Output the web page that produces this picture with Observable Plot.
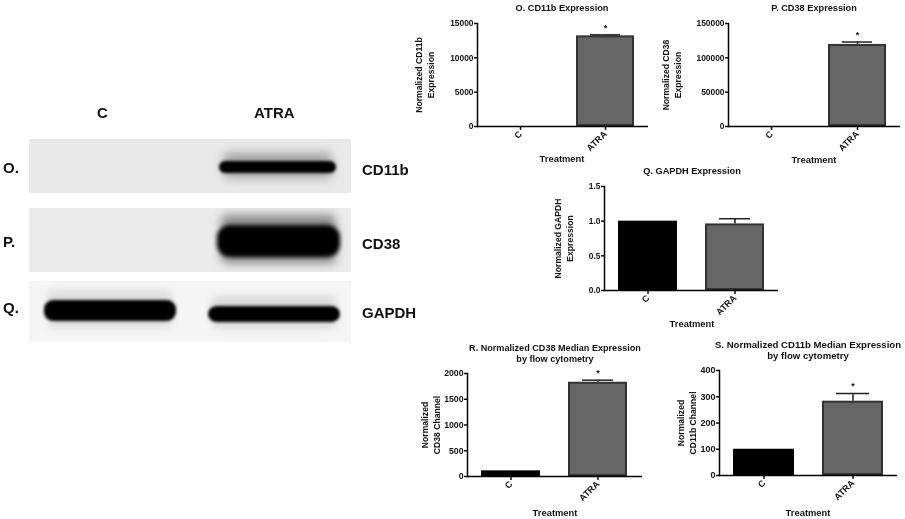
<!DOCTYPE html>
<html>
<head>
<meta charset="utf-8">
<script src="https://cdn.jsdelivr.net/npm/d3@7"></script>
<script src="https://cdn.jsdelivr.net/npm/@observablehq/plot@0.6"></script>
<style>
html,body{margin:0;padding:0;background:#fff}
#page{position:relative;width:905px;height:519px;overflow:hidden;font-family:"Liberation Sans",Arial,sans-serif;color:#000;font-weight:700}
#page svg{position:absolute;overflow:visible;background:transparent;font-family:"Liberation Sans",Arial,sans-serif;font-weight:700}
#page svg.chart{filter:blur(0.4px)}
#page svg.strip{overflow:hidden}
.t{position:absolute;white-space:pre;text-align:center;transform:translate(-50%,-50%);line-height:10.5px;font-size:9.2px;color:#111;filter:blur(0.4px)}
.b{position:absolute;white-space:pre;font-size:15px;line-height:15px;transform:translateY(-50%);color:#111;filter:blur(0.3px)}
</style>
</head>
<body>
<div id="page"></div>
<script>
const treatments = ["C", "ATRA"];

const cd11bValues = [0, 13200];
const cd11bUpper = [0, 13350];
const cd38Values = [0, 119500];
const cd38Upper = [0, 123000];
const gapdhValues = [1.0, 0.96];
const gapdhUpper = [1.0, 1.035];
const flowCd38Values = [110, 1830];
const flowCd38Upper = [110, 1870];
const flowCd11bValues = [100, 283];
const flowCd11bUpper = [100, 312];

const blotNames = ["CD11b", "CD38", "GAPDH"];
const blotLetters = ["O.", "P.", "Q."];
// Band extents on each gel strip, in migration units from the strip's top edge
const cd11bBands = [{lane: "ATRA", top: 22, bottom: 34, halo: 0.28}];
const cd38Bands = [{lane: "ATRA", top: 17, bottom: 49, halo: 0.4}];
const gapdhBands = [
  {lane: "C", top: 19, bottom: 40, halo: 0.1},
  {lane: "ATRA", top: 25, bottom: 41, halo: 0.12}
];

const page = document.getElementById("page");

function place(el, left, top) {
  el.style.left = left + "px";
  el.style.top = top + "px";
  page.appendChild(el);
}
function label(cls, text, left, top, size) {
  const d = document.createElement("div");
  d.className = cls;
  d.textContent = text;
  if (size) d.style.fontSize = size + "px";
  place(d, left, top);
}

function chart({values, upper, yMax, ticks, format, yLabel, title, left, right, y0, yTop, titleX, titleY, xLabelY, fs = 8.4, ylx = 0, star = true, titleSize}) {
  const mL = 70, mR = 6, mT = 14, mB = 42;
  const rows = treatments.map((t, i) => ({t, v: values[i], u: upper[i]}));
  const plot = Plot.plot({
    width: right - left + mL + mR,
    height: y0 - yTop + mT + mB,
    marginLeft: mL, marginRight: mR, marginTop: mT, marginBottom: mB,
    style: {fontSize: fs + "px", color: "#111"},
    x: {domain: treatments, paddingInner: 0.32, paddingOuter: 0.16, label: null},
    y: {domain: [0, yMax], label: null},
    marks: [
      Plot.barY(rows.filter(d => d.t === "C"), {x: "t", y: "v", fill: "#000"}),
      Plot.barY(rows.filter(d => d.t !== "C"), {x: "t", y: "v", fill: "#666", stroke: "#333", strokeWidth: 2, inset: 1}),
      Plot.ruleX(rows.filter(d => d.u > d.v), {x: "t", y1: "v", y2: "u", stroke: "#222", strokeWidth: 1.5}),
      Plot.tickY(rows.filter(d => d.u > d.v), {x: "t", y: "u", stroke: "#222", strokeWidth: 1.5, insetLeft: 14, insetRight: 14}),
      star ? Plot.text(rows.filter(d => d.t !== "C"), {x: "t", y: "u", text: () => "*", dy: -7, fontSize: 9, fontWeight: 700}) : null,
      Plot.axisY({ticks, tickFormat: format, tickSize: 3, tickPadding: 1, label: null, strokeWidth: 1.5}),
      Plot.axisX({tickRotate: -45, tickSize: 4, tickPadding: 2, label: null, strokeWidth: 1.5, fontSize: "9px"}),
      Plot.ruleY([0], {stroke: "#000", strokeWidth: 1.5}),
      Plot.frame({anchor: "left", stroke: "#000", strokeWidth: 1.5}),
      Plot.text([yLabel], {frameAnchor: "left", text: d => d, textAnchor: "middle", lineAnchor: "middle", rotate: -90, dx: ylx, lineHeight: 1.4, fontSize: 8.6, fontWeight: 700})
    ]
  });
  plot.classList.add("chart");
  place(plot, left - mL, yTop - mT);
  label("t", title, titleX, titleY, titleSize);
  label("t", "Treatment", titleX, xLabelY, 9.4);
}

chart({values: cd11bValues, upper: cd11bUpper, yMax: 15000, ticks: [0, 5000, 10000, 15000], format: d3.format("d"),
  yLabel: "Normalized CD11b\nExpression", title: "O. CD11b Expression",
  left: 477, right: 648, y0: 125.5, yTop: 22.5, titleX: 562, titleY: 7.5, xLabelY: 159, ylx: -53});
chart({values: cd38Values, upper: cd38Upper, yMax: 150000, ticks: [0, 50000, 100000, 150000], format: d3.format("d"),
  yLabel: "Normalized CD38\nExpression", title: "P. CD38 Expression",
  left: 728, right: 900, y0: 126, yTop: 23, titleX: 814, titleY: 7.5, xLabelY: 160, ylx: -57});
chart({values: gapdhValues, upper: gapdhUpper, yMax: 1.5, ticks: [0, 0.5, 1, 1.5], format: d3.format(".1f"),
  yLabel: "Normalized GAPDH\nExpression", title: "Q. GAPDH Expression", star: false,
  left: 604, right: 778, y0: 290, yTop: 186, titleX: 692, titleY: 171, xLabelY: 324, ylx: -41});
chart({values: flowCd38Values, upper: flowCd38Upper, yMax: 2000, ticks: [0, 500, 1000, 1500, 2000], format: d3.format("d"),
  yLabel: "Normalized\nCD38 Channel", title: "R. Normalized CD38 Median Expression\nby flow cytometry", titleSize: 9.1,
  left: 467, right: 642, y0: 476, yTop: 373, titleX: 555, titleY: 353, xLabelY: 513, fs: 8.7, ylx: -37});
chart({values: flowCd11bValues, upper: flowCd11bUpper, yMax: 400, ticks: [0, 100, 200, 300, 400], format: d3.format("d"),
  yLabel: "Normalized\nCD11b Channel", title: "S. Normalized CD11b Median Expression\nby flow cytometry", titleSize: 9.6,
  left: 719, right: 897, y0: 475, yTop: 370, titleX: 808, titleY: 350, xLabelY: 513, fs: 9, ylx: -33});

function strip(bands, top, height, bg, insetLeft, insetRight, haloBlur, coreBlur, rx) {
  const plot = Plot.plot({
    width: 322, height,
    margin: 0,
    x: {domain: treatments, range: [13, 313], paddingInner: 0.18, paddingOuter: 0, axis: null},
    y: {domain: [height, 0], axis: null},
    marks: [
      Plot.barY(bands, {x: "lane", y1: d => d.top - height * 0.16, y2: d => d.bottom + height * 0.1, fill: "#000", fillOpacity: d => d.halo, insetLeft: insetLeft + 4, insetRight: insetRight + 4, rx: 6}),
      Plot.barY(bands, {x: "lane", y1: "top", y2: "bottom", fill: "#000", insetLeft, insetRight, rx})
    ]
  });
  plot.classList.add("strip");
  plot.style.background = bg;
  const groups = plot.querySelectorAll('g[aria-label="bar"]');
  if (groups[0]) groups[0].style.filter = `blur(${haloBlur}px)`;
  if (groups[1]) groups[1].style.filter = `blur(${coreBlur}px)`;
  place(plot, 29, top);
}
strip(cd11bBands, 139, 54, "#e9e9e9", 12, 5, 5, 1.5, 6);
strip(cd38Bands, 208, 64, "#ebebeb", 10, 1, 5, 2, 13);
strip(gapdhBands, 281, 61, "#f5f5f5", 1, 1, 4, 1.5, 9);

label("b", treatments[0], 97, 112);
label("b", treatments[1], 254, 112);
label("b", blotLetters[0], 3, 167);
label("b", blotLetters[1], 3, 241);
label("b", blotLetters[2], 3, 307);
label("b", blotNames[0], 362, 169);
label("b", blotNames[1], 362, 243);
label("b", blotNames[2], 362, 312);
</script>
</body>
</html>
